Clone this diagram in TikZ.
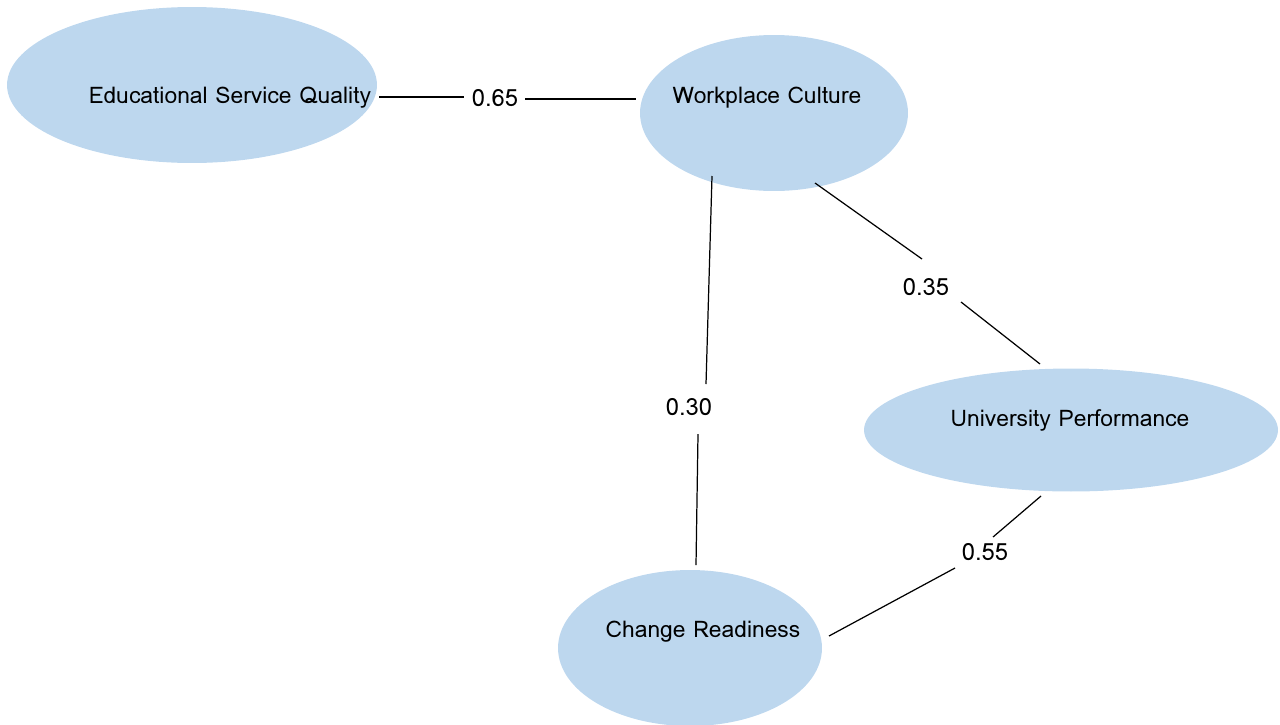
\documentclass[tikz,border=0pt]{standalone}
\usepackage{fontspec}
\setmainfont{Loma}
\usetikzlibrary{shapes.geometric}
\definecolor{factorblue}{HTML}{BDD7EE}
\tikzset{
  factor/.style={ellipse, fill=factorblue, draw=none, inner sep=0pt},
  factorname/.style={font=\fontsize{13}{16}\selectfont, inner sep=0pt},
  weight/.style={font=\fontsize{13.5}{16}\selectfont, inner sep=0pt},
  link/.style={black, line width=0.7pt}
}

\begin{document}
\begin{tikzpicture}[x=0.02cm, y=-0.02cm]
\useasboundingbox (0,0) rectangle (1280,724);
% latent factors
\node[factor, minimum width=7.4cm, minimum height=3.12cm] (esq) at (192,85) {};
\node[factor, minimum width=5.36cm, minimum height=3.12cm] (wc) at (774,113) {};
\node[factor, minimum width=8.28cm, minimum height=2.46cm] (up) at (1071,430) {};
\node[factor, minimum width=5.28cm, minimum height=3.12cm] (cr) at (690,648) {};
\node[factorname] (esqname) at (230,98) {Educational Service Quality};
\node[factorname] (wcname) at (767,98) {Workplace Culture};
\node[factorname] (upname) at (1070,420) {University Performance};
\node[factorname] (crname) at (703,632) {Change Readiness};
% line ends
\coordinate (esqE) at (379,97);
\coordinate (wcW) at (636,99);
\coordinate (wcS) at (712,176);
\coordinate (crN) at (696,565);
\coordinate (wcSE) at (815,183);
\coordinate (upN) at (1040,364);
\coordinate (upS) at (1041,496);
\coordinate (crE) at (829,636);
% gaps round the weights
\coordinate (g065a) at (464,97);
\coordinate (g065b) at (525,99);
\coordinate (g030a) at (706,384);
\coordinate (g030b) at (698,434);
\coordinate (g035a) at (922,259);
\coordinate (g035b) at (961,302);
\coordinate (g055a) at (993,537);
\coordinate (g055b) at (955,568);
% path weights
\node[weight] (w065) at (495,98) {0.65};
\node[weight] (w030) at (689,407) {0.30};
\node[weight] (w035) at (926,287) {0.35};
\node[weight] (w055) at (985,552) {0.55};
\draw[link] (esqE) -- (g065a) (g065b) -- (wcW);
\draw[link] (wcS) -- (g030a) (g030b) -- (crN);
\draw[link] (wcSE) -- (g035a) (g035b) -- (upN);
\draw[link] (upS) -- (g055a) (g055b) -- (crE);
\end{tikzpicture}
\end{document}
